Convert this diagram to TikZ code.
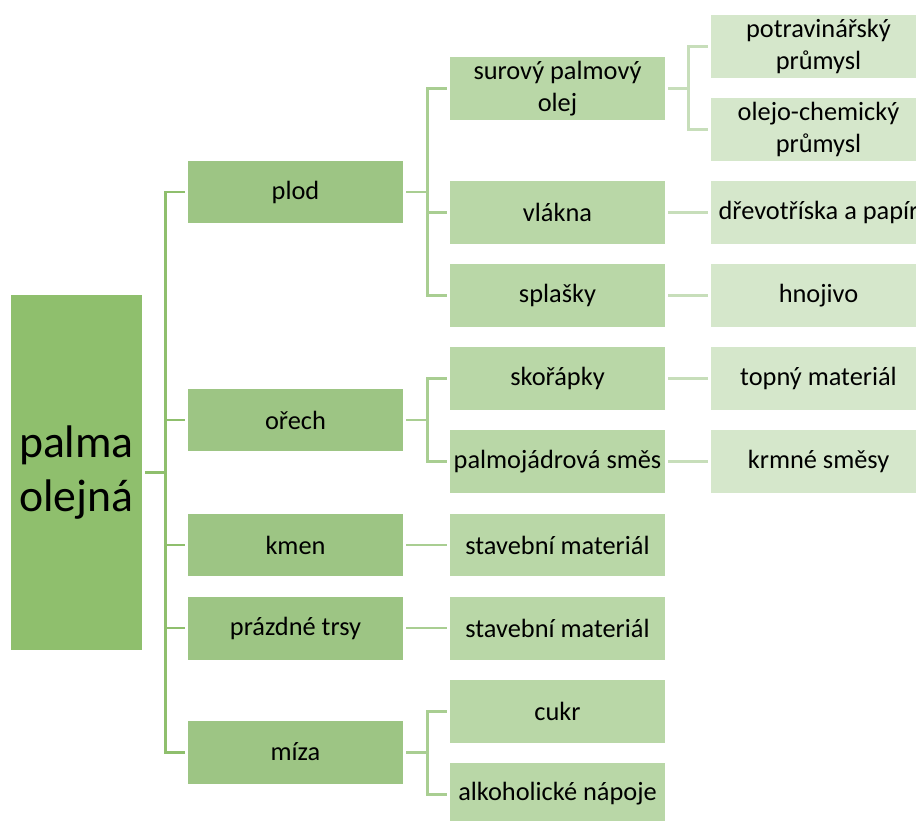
\documentclass[tikz,border=0pt]{standalone}
\usepackage{fontspec}
\setmainfont{Carlito}
\usetikzlibrary{calc}
\definecolor{rootgreen}{HTML}{8FBF6D}
\definecolor{lvlagreen}{HTML}{9DC584}
\definecolor{lvlbgreen}{HTML}{B9D7A7}
\definecolor{lvlcgreen}{HTML}{D5E7CB}
\definecolor{lnkagreen}{HTML}{A9CE92}
\definecolor{lnkbgreen}{HTML}{C7DEBA}

\begin{document}
\begin{tikzpicture}[
  x=0.02cm, y=-0.02cm,
  box/.style={minimum width=4.3cm, minimum height=1.26cm, inner sep=1pt,
              align=center, font=\fontsize{15}{18}\selectfont},
  rootbox/.style={fill=rootgreen, minimum width=2.62cm, minimum height=7.1cm,
              inner sep=1pt, align=center, font=\fontsize{26}{31}\selectfont},
  lvla/.style={box, fill=lvlagreen},
  lvlb/.style={box, fill=lvlbgreen},
  lvlc/.style={box, fill=lvlcgreen},
  lnk/.style={line width=1.7pt}
]
\useasboundingbox (0,0) rectangle (916,821);
\clip (0,0) rectangle (916,821);

% root
\node[rootbox] (palma) at (76.5,472.5) {palma\\olejná};

% first level
\node[lvla] (plod) at (295.5,192) {plod};
\node[lvla] (orech) at (295.5,420) {ořech};
\node[lvla] (kmen) at (295.5,545) {kmen};
\node[lvla] (trsy) at (295.5,628) {prázdné trsy};
\node[lvla] (miza) at (295.5,752) {míza};

% second level
\node[lvlb] (olej) at (557.5,88.5) {surový palmový\\olej};
\node[lvlb] (vlakna) at (557.5,212.5) {vlákna};
\node[lvlb] (splasky) at (557.5,295.5) {splašky};
\node[lvlb] (skorapky) at (557.5,378.5) {skořápky};
\node[lvlb] (smes) at (557.5,461.5) {palmojádrová směs};
\node[lvlb] (stavkmen) at (557.5,545) {stavební materiál};
\node[lvlb] (stavtrsy) at (557.5,628) {stavební materiál};
\node[lvlb] (cukr) at (557.5,711) {cukr};
\node[lvlb] (napoje) at (557.5,794) {alkoholické nápoje};

% third level
\node[lvlc] (potrav) at (818.5,46.5) {potravinářský\\průmysl};
\node[lvlc] (chem) at (818.5,129.5) {olejo-chemický\\průmysl};
\node[lvlc] (papir) at (818.5,212.5) {dřevotříska a papír};
\node[lvlc] (hnojivo) at (818.5,295.5) {hnojivo};
\node[lvlc] (topny) at (818.5,378.5) {topný materiál};
\node[lvlc] (krmne) at (818.5,461.5) {krmné směsy};

% connectors from the root
\draw[lnk, rootgreen] ($(palma.east)+(3,0)$) -- ++(20,0) |- ($(plod.west)+(-3,0)$);
\draw[lnk, rootgreen] ($(palma.east)+(3,0)$) -- ++(20,0) |- ($(orech.west)+(-3,0)$);
\draw[lnk, rootgreen] ($(palma.east)+(3,0)$) -- ++(20,0) |- ($(kmen.west)+(-3,0)$);
\draw[lnk, rootgreen] ($(palma.east)+(3,0)$) -- ++(20,0) |- ($(trsy.west)+(-3,0)$);
\draw[lnk, rootgreen] ($(palma.east)+(3,0)$) -- ++(20,0) |- ($(miza.west)+(-3,0)$);

% connectors from the first level
\draw[lnk, lnkagreen] ($(plod.east)+(3,0)$) -- ++(21,0) |- ($(olej.west)+(-3,0)$);
\draw[lnk, lnkagreen] ($(plod.east)+(3,0)$) -- ++(21,0) |- ($(vlakna.west)+(-3,0)$);
\draw[lnk, lnkagreen] ($(plod.east)+(3,0)$) -- ++(21,0) |- ($(splasky.west)+(-3,0)$);
\draw[lnk, lnkagreen] ($(orech.east)+(3,0)$) -- ++(21,0) |- ($(skorapky.west)+(-3,0)$);
\draw[lnk, lnkagreen] ($(orech.east)+(3,0)$) -- ++(21,0) |- ($(smes.west)+(-3,0)$);
\draw[lnk, lnkagreen] ($(kmen.east)+(3,0)$) -- ($(stavkmen.west)+(-3,0)$);
\draw[lnk, lnkagreen] ($(trsy.east)+(3,0)$) -- ($(stavtrsy.west)+(-3,0)$);
\draw[lnk, lnkagreen] ($(miza.east)+(3,0)$) -- ++(21,0) |- ($(cukr.west)+(-3,0)$);
\draw[lnk, lnkagreen] ($(miza.east)+(3,0)$) -- ++(21,0) |- ($(napoje.west)+(-3,0)$);

% connectors from the second level
\draw[lnk, lnkbgreen] ($(olej.east)+(3,0)$) -- ++(20,0) |- ($(potrav.west)+(-3,0)$);
\draw[lnk, lnkbgreen] ($(olej.east)+(3,0)$) -- ++(20,0) |- ($(chem.west)+(-3,0)$);
\draw[lnk, lnkbgreen] ($(vlakna.east)+(3,0)$) -- ($(papir.west)+(-3,0)$);
\draw[lnk, lnkbgreen] ($(splasky.east)+(3,0)$) -- ($(hnojivo.west)+(-3,0)$);
\draw[lnk, lnkbgreen] ($(skorapky.east)+(3,0)$) -- ($(topny.west)+(-3,0)$);
\draw[lnk, lnkbgreen] ($(smes.east)+(3,0)$) -- ($(krmne.west)+(-3,0)$);
\end{tikzpicture}
\end{document}
